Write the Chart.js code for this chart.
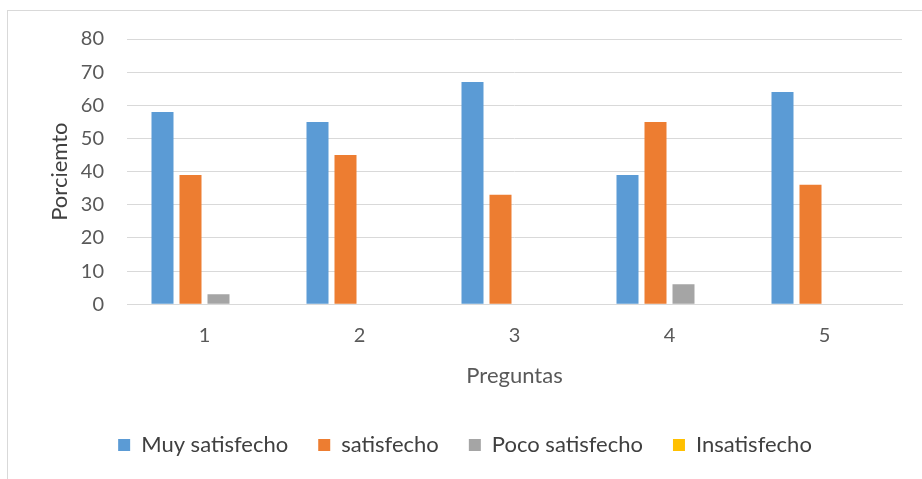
<!DOCTYPE html>
<html>
<head>
<meta charset="utf-8">
<script src="https://cdn.jsdelivr.net/npm/chart.js@4"></script>
<style>
  html, body { margin: 0; padding: 0; background: #fff; }
  #frame {
    position: absolute; left: 7px; top: 10px;
    width: 915px; height: 469px;
    border-left: 1px solid #d9d9d9; border-top: 1px solid #d9d9d9;
  }
  #chart { display: block; }
</style>
</head>
<body>
<div id="frame"><canvas id="chart" width="914" height="468"></canvas></div>
<script>
// Preguntas 1..5, porcentajes por nivel de satisfaccion
const preguntas = ['1', '2', '3', '4', '5'];
const muySatisfecho = [58, 55, 67, 39, 64];
const satisfecho = [39, 45, 33, 55, 36];
const pocoSatisfecho = [3, 0, 0, 6, 0];
const insatisfecho = [0, 0, 0, 0, 0];

const FONT = 'Lato, "Noto Sans", sans-serif';

const mkSet = (label, data, color) => ({
  label: label,
  data: data,
  backgroundColor: color,
  borderWidth: 0,
  categoryPercentage: 0.7226,
  barPercentage: 0.786,
});

new Chart(document.getElementById('chart').getContext('2d'), {
  type: 'bar',
  data: {
    labels: preguntas,
    datasets: [
      mkSet('Muy satisfecho', muySatisfecho, '#5B9BD5'),
      mkSet('satisfecho', satisfecho, '#ED7D31'),
      mkSet('Poco satisfecho', pocoSatisfecho, '#A5A5A5'),
      mkSet('Insatisfecho', insatisfecho, '#FFC000'),
    ],
  },
  options: {
    responsive: false,
    animation: false,
    layout: { padding: { left: 20, right: 20, top: 28, bottom: 13 } },
    plugins: {
      tooltip: { enabled: false },
      legend: {
        position: 'bottom',
        labels: {
          boxWidth: 12,
          boxHeight: 12,
          padding: 30,
          color: '#404040',
          font: { family: FONT, size: 22 },
        },
      },
    },
    scales: {
      x: {
        grid: { display: false, drawTicks: false },
        border: { display: true, color: '#d9d9d9', width: 1 },
        ticks: { color: '#595959', font: { family: FONT, size: 20 }, padding: 19 },
        title: {
          display: true,
          text: 'Preguntas',
          color: '#595959',
          font: { family: FONT, size: 22 },
          padding: { top: 0, bottom: 14.6 },
        },
        afterFit: (scale) => { scale.height = 99.8; },
      },
      y: {
        min: 0,
        max: 80,
        ticks: { stepSize: 10, color: '#595959', font: { family: FONT, size: 20 }, padding: 23 },
        grid: { color: '#d9d9d9', lineWidth: 1, drawTicks: false },
        border: { display: false },
        title: {
          display: true,
          text: 'Porciemto',
          color: '#404040',
          font: { family: FONT, size: 22 },
          padding: { top: 19, bottom: 0 },
        },
        afterFit: (scale) => {
          scale.width = 99;
          // keep the tick padding from pushing the plot area down
          scale.paddingTop = 12;
          scale.paddingBottom = 12;
        },
      },
    },
  },
});
</script>
</body>
</html>
